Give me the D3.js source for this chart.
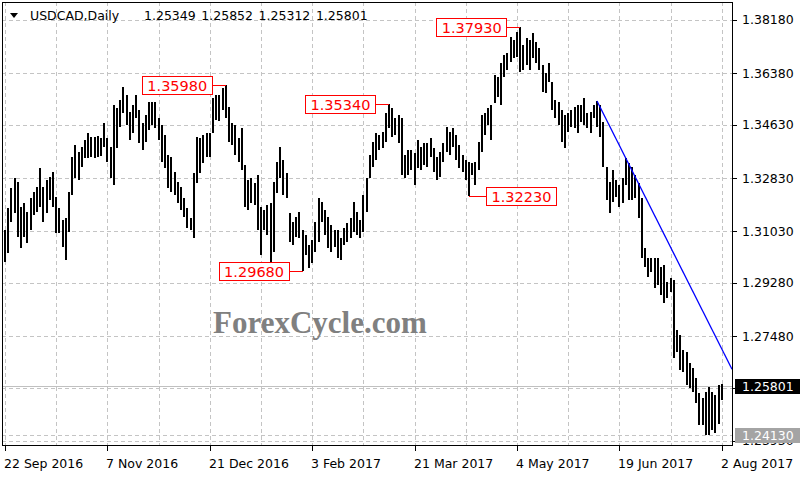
<!DOCTYPE html>
<html>
<head>
<meta charset="utf-8">
<script src="https://cdn.jsdelivr.net/npm/d3@7"></script>
<style>
  html, body { margin: 0; padding: 0; background: #fff; }
  svg { display: block; font-family: "DejaVu Sans", sans-serif; }
</style>
</head>
<body>
<div id="chart"></div>
<script>
// USDCAD daily bars, 22 Sep 2016 .. 2 Aug 2017 (bar index 0..224)
const highs = [
  1.3107,1.3181,1.3249,1.3283,1.3269,1.3185,1.3199,1.3168,1.3215,1.3236,
  1.3253,1.3317,1.3253,1.3276,1.3286,1.3303,1.3219,1.3181,1.3141,1.3148,
  1.3236,1.3354,1.3395,1.3371,1.3388,1.3412,1.3435,1.3422,1.3422,1.3425,
  1.3418,1.3469,1.3418,1.3388,1.3530,1.3520,1.3547,1.3591,1.3564,1.3506,
  1.3530,1.3564,1.3513,1.3469,1.3496,1.3540,1.3540,1.3540,1.3486,1.3462,
  1.3429,1.3361,1.3354,1.3303,1.3269,1.3253,1.3215,1.3181,1.3148,1.3300,
  1.3422,1.3418,1.3429,1.3435,1.3435,1.3554,1.3564,1.3564,1.3588,1.3598,
  1.3523,1.3469,1.3462,1.3418,1.3452,1.3327,1.3276,1.3283,1.3266,1.3293,
  1.3185,1.3175,1.3192,1.3199,1.3269,1.3337,1.3388,1.3344,1.3300,1.3165,
  1.3134,1.3151,1.3168,1.3107,1.3090,1.3056,1.3073,1.3134,1.3215,1.3202,
  1.3175,1.3151,1.3124,1.3107,1.3107,1.3080,1.3114,1.3131,1.3148,1.3202,
  1.3168,1.3141,1.3225,1.3283,1.3361,1.3405,1.3435,1.3429,1.3439,1.3503,
  1.3534,1.3520,1.3486,1.3496,1.3486,1.3361,1.3378,1.3378,1.3368,1.3412,
  1.3388,1.3402,1.3402,1.3418,1.3385,1.3354,1.3371,1.3402,1.3456,1.3439,
  1.3452,1.3429,1.3395,1.3361,1.3344,1.3337,1.3334,1.3337,1.3405,1.3496,
  1.3503,1.3520,1.3530,1.3632,1.3625,1.3672,1.3699,1.3706,1.3760,1.3750,
  1.3777,1.3793,1.3733,1.3757,1.3750,1.3774,1.3743,1.3723,1.3666,1.3638,
  1.3672,1.3608,1.3547,1.3540,1.3513,1.3496,1.3503,1.3513,1.3523,1.3530,
  1.3530,1.3554,1.3503,1.3506,1.3530,1.3544,1.3530,1.3473,1.3320,1.3269,
  1.3310,1.3276,1.3259,1.3283,1.3351,1.3334,1.3320,1.3293,1.3266,1.3215,
  1.3046,1.3012,1.3012,1.3012,1.3012,1.2982,1.2988,1.2931,1.2945,1.2938,
  1.2769,1.2752,1.2701,1.2694,1.2657,1.2640,1.2606,1.2555,1.2538,1.2558,
  1.2575,1.2558,1.2548,1.2582,1.25852
];
const lows = [
  1.3000,1.3029,1.3134,1.3165,1.3083,1.3046,1.3083,1.3063,1.3107,1.3158,
  1.3168,1.3185,1.3134,1.3165,1.3209,1.3185,1.3097,1.3097,1.3049,1.3006,
  1.3100,1.3225,1.3283,1.3276,1.3320,1.3351,1.3351,1.3354,1.3351,1.3354,
  1.3358,1.3388,1.3337,1.3283,1.3259,1.3385,1.3456,1.3503,1.3463,1.3412,
  1.3435,1.3486,1.3402,1.3378,1.3405,1.3446,1.3463,1.3452,1.3412,1.3337,
  1.3317,1.3249,1.3236,1.3225,1.3198,1.3175,1.3151,1.3114,1.3107,1.3080,
  1.3266,1.3300,1.3334,1.3354,1.3354,1.3435,1.3479,1.3476,1.3513,1.3486,
  1.3405,1.3395,1.3361,1.3337,1.3310,1.3185,1.3175,1.3198,1.3192,1.3107,
  1.3022,1.3107,1.3090,1.2999,1.3032,1.3232,1.3283,1.3225,1.3215,1.3066,
  1.3056,1.3083,1.3080,1.2968,1.3022,1.2978,1.2995,1.3032,1.3066,1.3134,
  1.3090,1.3046,1.3032,1.3049,1.3012,1.3006,1.3056,1.3066,1.3080,1.3100,
  1.3090,1.3080,1.3100,1.3168,1.3283,1.3320,1.3344,1.3378,1.3385,1.3405,
  1.3452,1.3422,1.3429,1.3402,1.3293,1.3283,1.3293,1.3310,1.3259,1.3317,
  1.3310,1.3327,1.3320,1.3354,1.3303,1.3276,1.3286,1.3337,1.3371,1.3361,
  1.3388,1.3344,1.3317,1.3303,1.3276,1.3223,1.3293,1.3259,1.3310,1.3371,
  1.3429,1.3463,1.3412,1.3537,1.3557,1.3530,1.3625,1.3649,1.3676,1.3689,
  1.3693,1.3642,1.3649,1.3666,1.3649,1.3689,1.3672,1.3649,1.3574,1.3571,
  1.3608,1.3513,1.3486,1.3463,1.3405,1.3385,1.3439,1.3456,1.3452,1.3435,
  1.3473,1.3463,1.3452,1.3435,1.3486,1.3456,1.3422,1.3320,1.3209,1.3165,
  1.3202,1.3219,1.3185,1.3199,1.3259,1.3209,1.3209,1.3215,1.3148,1.3012,
  1.2982,1.2948,1.2965,1.2910,1.2920,1.2887,1.2860,1.2877,1.2897,1.2674,
  1.2694,1.2633,1.2626,1.2582,1.2572,1.2558,1.2521,1.2447,1.2447,1.2413,
  1.2413,1.2430,1.2420,1.2450,1.25312
];

// last bar OHLC shown in the header
const lastOHLC = [1.25349, 1.25852, 1.25312, 1.25801];

// price axis: grid levels, and the labels that are printed
const gridPrices = [1.38180, 1.36380, 1.34630, 1.32830, 1.31030, 1.29280, 1.27480, 1.25730, 1.23930];
const priceLabels = [1.38180, 1.36380, 1.34630, 1.32830, 1.31030, 1.29280, 1.27480];
const bottomLabel = 1.23930; // partly hidden under the level tag

// date axis: bar index of each label
const dateTickIdx = [0, 32, 64, 96, 128, 160, 192, 224];
const dateTickLabels = ['22 Sep 2016', '7 Nov 2016', '21 Dec 2016', '3 Feb 2017',
                        '21 Mar 2017', '4 May 2017', '19 Jun 2017', '2 Aug 2017'];

// marked swing highs / lows
const markIdx   = [69, 93, 120, 145, 161];
const markPrice = [1.35980, 1.29680, 1.35340, 1.32230, 1.37930];
const markSide  = ['left', 'left', 'left', 'right', 'left'];

// falling trend line (bar index, price)
const trendIdx   = [185, 226.8];
const trendPrice = [1.3544, 1.2644];

// horizontal level line (dashed) and bid line
const levelPrice = 1.24130;
const bidPrice = 1.25801;

const width = 800, height = 480;
const pL = 2, pR = 732, pT = 2, pB = 445;

const svg = d3.select('#chart').append('svg')
    .attr('width', width)
    .attr('height', height);

const x = d3.scaleLinear().domain([0, 224]).range([5, 721.8]);
const y = d3.scaleLinear().domain([1.23793, 1.38789]).range([pB, pT]);

const grid = svg.append('g')
    .attr('stroke', '#c4c4c4')
    .attr('stroke-dasharray', '4,3')
    .attr('shape-rendering', 'crispEdges');

// vertical grid every 16 bars
grid.selectAll('line.v')
  .data(d3.range(0, 225, 16))
  .join('line')
    .attr('class', 'v')
    .attr('x1', d => Math.round(x(d)) + 0.5)
    .attr('x2', d => Math.round(x(d)) + 0.5)
    .attr('y1', pT)
    .attr('y2', pB);

// horizontal grid at price levels + level line
grid.selectAll('line.h')
  .data(gridPrices.concat([levelPrice]))
  .join('line')
    .attr('class', 'h')
    .attr('x1', pL)
    .attr('x2', pR)
    .attr('y1', d => Math.round(y(d)) + 0.5)
    .attr('y2', d => Math.round(y(d)) + 0.5);

// bid line
svg.append('line')
    .attr('x1', pL).attr('x2', pR)
    .attr('y1', Math.round(y(bidPrice)) + 0.5)
    .attr('y2', Math.round(y(bidPrice)) + 0.5)
    .attr('stroke', '#c0c0c0')
    .attr('shape-rendering', 'crispEdges');

// watermark
svg.append('text')
    .attr('x', 213)
    .attr('y', 333)
    .attr('font-family', '"Liberation Serif", serif')
    .attr('font-weight', 'bold')
    .attr('font-size', 31)
    .attr('fill', '#808080')
    .text('ForexCycle.com');

// bars (high-low)
const bars = highs.map((h, i) => ({ i, h, l: lows[i] }));
svg.append('g')
    .attr('shape-rendering', 'crispEdges')
  .selectAll('rect')
  .data(bars)
  .join('rect')
    .attr('x', d => Math.round(x(d.i)) - 1)
    .attr('width', 2)
    .attr('y', d => Math.round(y(d.h)))
    .attr('height', d => Math.max(1, Math.round(y(d.l)) - Math.round(y(d.h))))
    .attr('fill', '#000');

// trend line, extended to the right edge
const tSlope = (trendPrice[1] - trendPrice[0]) / (trendIdx[1] - trendIdx[0]);
const endIdx = x.invert(pR);
svg.append('line')
    .attr('x1', x(trendIdx[0]))
    .attr('y1', y(trendPrice[0]))
    .attr('x2', x(endIdx))
    .attr('y2', y(trendPrice[0] + tSlope * (endIdx - trendIdx[0])))
    .attr('stroke', '#0000ff')
    .attr('stroke-width', 1.3);

// price marks
const marks = markIdx.map((i, k) => ({ i, p: markPrice[k], side: markSide[k] }));
const boxW = 70, boxH = 18;
const mg = svg.append('g');
marks.forEach(d => {
  const bx = x(d.i);
  const by = Math.round(y(d.p));
  const x0 = d.side === 'left' ? bx - 14 - boxW : bx + 17;
  mg.append('line')
      .attr('x1', d.side === 'left' ? x0 + boxW : bx)
      .attr('x2', d.side === 'left' ? bx : x0)
      .attr('y1', by + 0.5).attr('y2', by + 0.5)
      .attr('stroke', '#ff0000')
      .attr('shape-rendering', 'crispEdges');
  mg.append('rect')
      .attr('x', Math.round(x0) + 0.5)
      .attr('y', by - boxH / 2 + 0.5)
      .attr('width', boxW)
      .attr('height', boxH)
      .attr('fill', '#fff')
      .attr('stroke', '#ff0000');
  mg.append('text')
      .attr('x', x0 + boxW / 2 + 0.5)
      .attr('y', by + 5.5)
      .attr('text-anchor', 'middle')
      .attr('font-size', 14.5)
      .attr('fill', '#ff0000')
      .text(d.p.toFixed(5));
});

// frame
svg.append('rect')
    .attr('x', pL + 0.5).attr('y', pT + 0.5)
    .attr('width', pR - pL).attr('height', pB - pT)
    .attr('fill', 'none')
    .attr('stroke', '#000')
    .attr('shape-rendering', 'crispEdges');

// price axis
const pa = svg.append('g');
pa.selectAll('line')
  .data(gridPrices)
  .join('line')
    .attr('x1', pR).attr('x2', pR + 5)
    .attr('y1', d => Math.round(y(d)) + 0.5)
    .attr('y2', d => Math.round(y(d)) + 0.5)
    .attr('stroke', '#000')
    .attr('shape-rendering', 'crispEdges');
pa.selectAll('text')
  .data(priceLabels)
  .join('text')
    .attr('x', 742)
    .attr('y', d => y(d) + 4.5)
    .attr('font-size', 12.5)
    .attr('fill', '#000')
    .text(d => d.toFixed(5));

// bottom label, only its lower part shows below the level tag
svg.append('clipPath')
    .attr('id', 'below-tag')
  .append('rect')
    .attr('x', 733).attr('y', Math.round(y(levelPrice)) + 8)
    .attr('width', 67).attr('height', 20);
svg.append('text')
    .attr('x', 742)
    .attr('y', y(bottomLabel) + 4.5)
    .attr('font-size', 12.5)
    .attr('fill', '#000')
    .attr('clip-path', 'url(#below-tag)')
    .text(bottomLabel.toFixed(5));

// price tags on the axis
function tag(price, bg) {
  const cy = Math.round(y(price));
  svg.append('rect')
      .attr('x', 735).attr('y', cy - 7)
      .attr('width', 65).attr('height', 15)
      .attr('fill', bg);
  svg.append('text')
      .attr('x', 742).attr('y', cy + 4.5)
      .attr('font-size', 12.5)
      .attr('fill', '#fff')
      .text(price.toFixed(5));
}
tag(bidPrice, '#000');
tag(levelPrice, '#a4a4a4');

// date axis
const da = svg.append('g');
da.selectAll('line')
  .data(dateTickIdx)
  .join('line')
    .attr('x1', d => Math.round(x(d)) + 0.5)
    .attr('x2', d => Math.round(x(d)) + 0.5)
    .attr('y1', pB).attr('y2', pB + 6)
    .attr('stroke', '#000')
    .attr('shape-rendering', 'crispEdges');
da.selectAll('text')
  .data(dateTickIdx)
  .join('text')
    .attr('x', d => Math.round(x(d)) - 1)
    .attr('y', 468)
    .attr('font-size', 12.5)
    .attr('fill', '#000')
    .text((d, k) => dateTickLabels[k]);

// header
svg.append('path')
    .attr('d', 'M10,13 L18,13 L14,18 Z')
    .attr('fill', '#000');
svg.append('text')
    .attr('x', 30).attr('y', 20)
    .attr('font-size', 12.5)
    .attr('fill', '#000')
    .text('USDCAD,Daily');
svg.selectAll('text.ohlc')
  .data(lastOHLC)
  .join('text')
    .attr('class', 'ohlc')
    .attr('x', (d, k) => 144 + k * 57.3)
    .attr('y', 20)
    .attr('font-size', 12.5)
    .attr('fill', '#000')
    .text(d => d.toFixed(5));
</script>
</body>
</html>
